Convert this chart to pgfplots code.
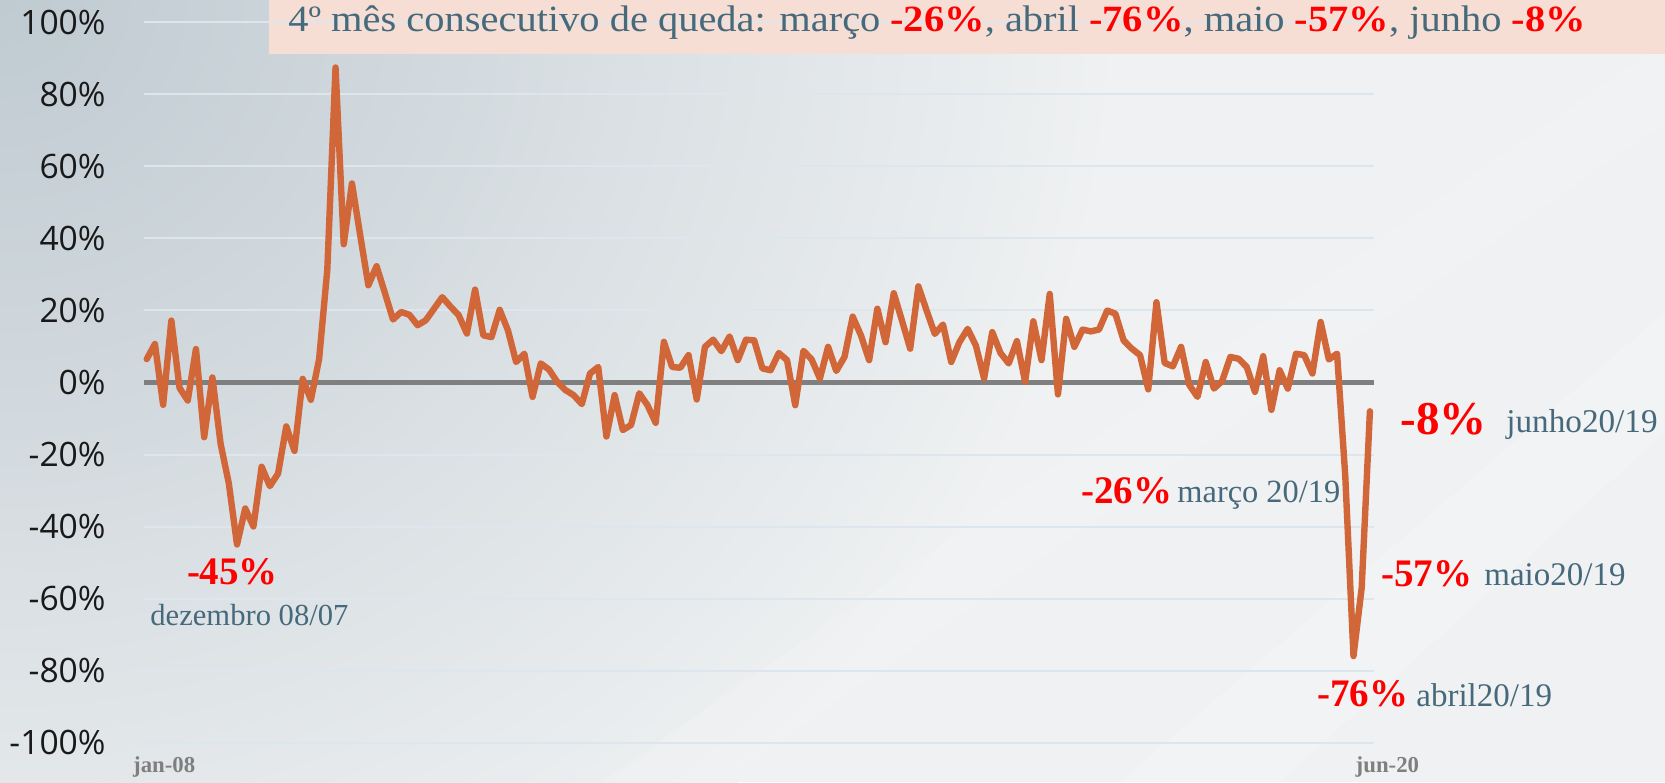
\documentclass[border=0pt]{standalone}
\usepackage{pgfplots}
\pgfplotsset{compat=1.18}
\usepackage{fontspec}
\setmainfont{Liberation Serif}
\newfontfamily\tickfont{Open Sans}
\newfontfamily\titlefont[FakeStretch=1.093]{Liberation Serif}
\definecolor{bgbase}{HTML}{EFF1F2}
\definecolor{bgdark}{HTML}{BFCAD1}
\definecolor{titlebg}{HTML}{F6DED4}
\definecolor{txt}{HTML}{46697B}
\definecolor{redv}{HTML}{FF0000}
\definecolor{linec}{HTML}{D16738}
\definecolor{gridc}{HTML}{DCE6EC}
\definecolor{zeroc}{HTML}{7F7F7F}
\begin{document}
\begin{tikzpicture}[x=1pt,y=1pt]
\useasboundingbox (0,0) rectangle (832.5,391);
\fill[bgbase] (0,0) rectangle (832.5,391);
\begin{scope}
\clip (0,0) rectangle (832.5,391);
\shade[inner color=bgdark, outer color=bgbase] (0,391) ellipse (560 and 520);
\fill[white, opacity=0.18] (560,0) -- (640,0) -- (832.5,175) -- (832.5,235) -- cycle;
\fill[white, opacity=0.12] (300,0) -- (360,0) -- (832.5,330) -- (832.5,370) -- cycle;
\end{scope}
\fill[titlebg] (134.5,364) rectangle (832.5,391);
\begin{axis}[
  at={(72pt,19.75pt)}, anchor=south west,
  scale only axis, width=615pt, height=360pt,
  xmin=-0.33, xmax=149.5, ymin=-100, ymax=100,
  axis line style={draw=none},
  major tick length=0pt,
  xtick={0,149}, xticklabels={jan-08,jun-20},
  xticklabel style={font=\bfseries\fontsize{11.4}{12}\selectfont, text=zeroc, anchor=base, xshift=8.75pt, yshift=-14.75pt},
  ytick={-100,-80,-60,-40,-20,0,20,40,60,80,100},
  yticklabels={-100\%,-80\%,-60\%,-40\%,-20\%,0\%,20\%,40\%,60\%,80\%,100\%},
  yticklabel style={font=\tickfont\fontsize{16.8}{18}\selectfont, text=black!90, anchor=east, inner sep=0pt, xshift=-19pt},
  ymajorgrids, major grid style={gridc, line width=1pt},
  clip=false,
]
\draw[zeroc, line width=2.25pt] (axis cs:-0.33,0) -- (axis cs:149.5,0);
\addplot[linec, line width=3.2pt, line join=round, line cap=round, mark=none] coordinates {
(0,6.5) (1,10.7) (2,-6.2) (3,17.2) (4,-1.5) (5,-5) (6,9.3) (7,-15.2) (8,1.4) (9,-17)
(10,-28) (11,-45) (12,-35) (13,-40) (14,-23.4) (15,-28.8) (16,-25.3) (17,-12.2) (18,-19) (19,1)
(20,-4.8) (21,6.5) (22,31.4) (23,87.5) (24,38.4) (25,55.3) (26,41) (27,27) (28,32.3) (29,25)
(30,17.5) (31,19.6) (32,18.8) (33,15.9) (34,17.3) (35,20.5) (36,23.7) (37,21.1) (38,18.7) (39,13.6)
(40,25.8) (41,13.1) (42,12.6) (43,20.2) (44,14.5) (45,5.7) (46,8) (47,-4) (48,5.3) (49,3.6)
(50,0.2) (51,-2.1) (52,-3.5) (53,-6) (54,2.5) (55,4.3) (56,-15) (57,-3.5) (58,-13.2) (59,-11.8)
(60,-3) (61,-6.3) (62,-11.2) (63,11.3) (64,4.3) (65,4.1) (66,7.6) (67,-4.7) (68,9.9) (69,11.9)
(70,8.7) (71,12.8) (72,6.2) (73,11.9) (74,11.7) (75,3.9) (76,3.4) (77,8.2) (78,6.2) (79,-6.3)
(80,8.8) (81,6.4) (82,1.1) (83,9.9) (84,3.2) (85,7.1) (86,18.3) (87,13.1) (88,6.2) (89,20.5)
(90,11.2) (91,24.8) (92,17.2) (93,9.4) (94,26.7) (95,20) (96,13.5) (97,16.1) (98,5.7) (99,11.2)
(100,14.9) (101,10.3) (102,1.1) (103,14) (104,8.2) (105,5.3) (106,11.5) (107,0.2) (108,17) (109,6.2)
(110,24.6) (111,-3.3) (112,17.7) (113,9.9) (114,14.7) (115,14.2) (116,14.7) (117,20) (118,19.1) (119,11.7)
(120,9.4) (121,7.6) (122,-1.9) (123,22.3) (124,5.4) (125,4.5) (126,9.9) (127,-0.7) (128,-4) (129,5.7)
(130,-1.7) (131,0.4) (132,7.1) (133,6.6) (134,4.3) (135,-2.6) (136,7.3) (137,-7.6) (138,3.4) (139,-1.7)
(140,8) (141,7.6) (142,2.5) (143,16.8) (144,6.4) (145,8) (146,-26) (147,-76) (148,-57) (149,-8)
};
\end{axis}
% title
\node[anchor=base west, inner sep=0pt, text=txt, font=\titlefont\fontsize{18.5}{20}\selectfont] at (144,375.15)
  {4º mês consecutivo de queda: março \textbf{\color{redv}-26\%}, abril \textbf{\color{redv}-76\%}, maio \textbf{\color{redv}-57\%}, junho \textbf{\color{redv}-8\%}};
% annotations
\node[anchor=base west, inner sep=0pt, text=redv, font=\bfseries\fontsize{19.5}{22}\selectfont] at (93.3,98.75) {-45\%};
\node[anchor=base west, inner sep=0pt, text=txt, font=\fontsize{15.3}{18}\selectfont] at (75,78) {dezembro 08/07};
\node[anchor=base west, inner sep=0pt, text=redv, font=\bfseries\fontsize{19.5}{22}\selectfont] at (540.5,139.25) {-26\%};
\node[anchor=base west, inner sep=0pt, text=txt, font=\fontsize{16.2}{18}\selectfont] at (588.5,139.5) {março 20/19};
\node[anchor=base west, inner sep=0pt, text=redv, font=\bfseries\fontsize{23.5}{26}\selectfont] at (700,173.5) {-8\%};
\node[anchor=base west, inner sep=0pt, text=txt, font=\fontsize{16.6}{18}\selectfont] at (753,174.6) {junho20/19};
\node[anchor=base west, inner sep=0pt, text=redv, font=\bfseries\fontsize{19.5}{22}\selectfont] at (690.5,97.65) {-57\%};
\node[anchor=base west, inner sep=0pt, text=txt, font=\fontsize{16.5}{18}\selectfont] at (742,98) {maio20/19};
\node[anchor=base west, inner sep=0pt, text=redv, font=\bfseries\fontsize{19.5}{22}\selectfont] at (658.5,37.65) {-76\%};
\node[anchor=base west, inner sep=0pt, text=txt, font=\fontsize{16.5}{18}\selectfont] at (708,37.65) {abril20/19};
\end{tikzpicture}
\end{document}
